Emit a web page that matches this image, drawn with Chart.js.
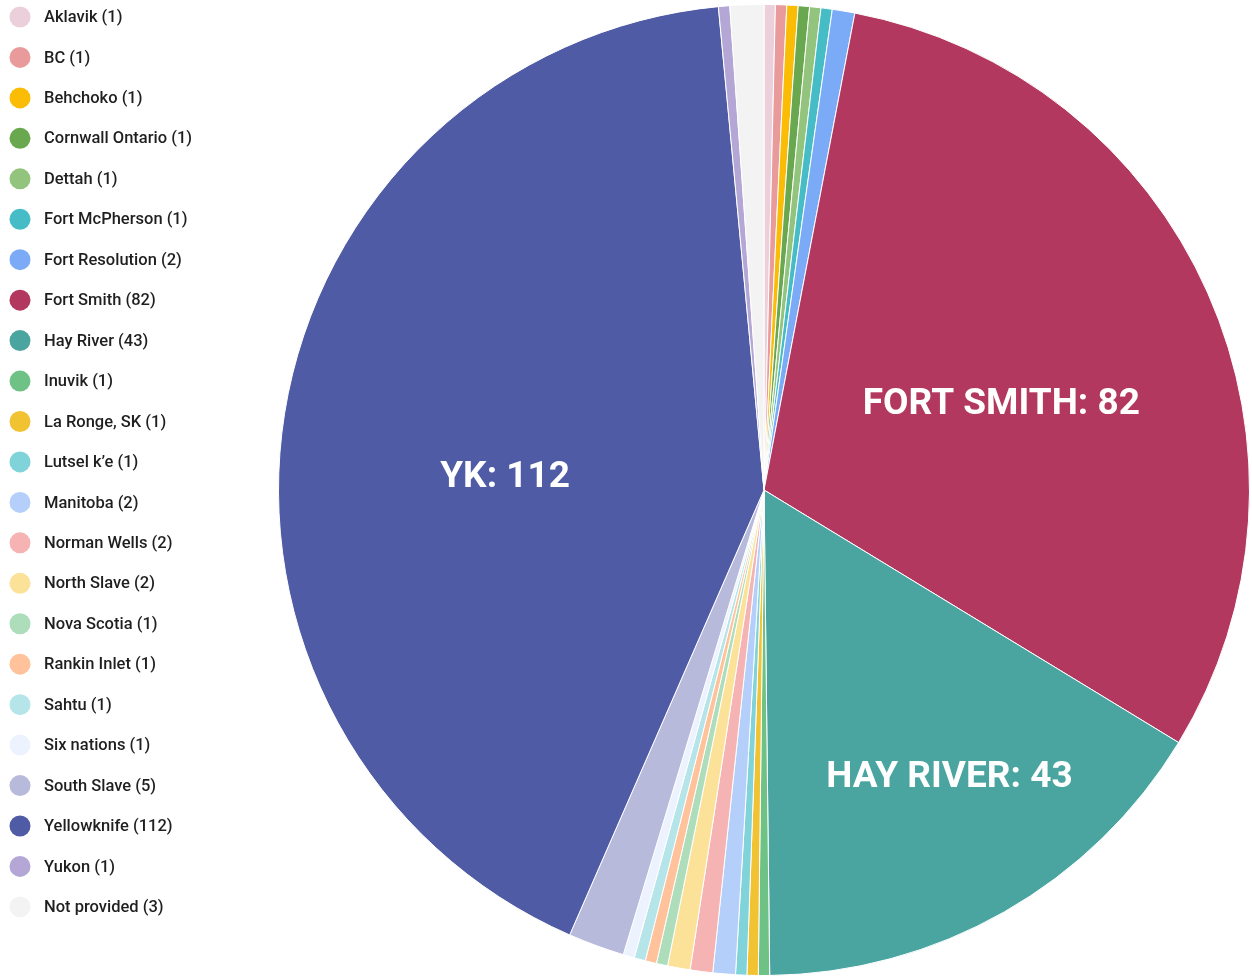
<!DOCTYPE html>
<html>
<head>
<meta charset="utf-8">
<script src="https://cdn.jsdelivr.net/npm/chart.js@4.4.1/dist/chart.umd.min.js"></script>
<style>
  html, body { margin: 0; padding: 0; background: #ffffff; }
  #wrap { width: 1252px; height: 977px; position: relative; }
</style>
</head>
<body>
<div id="wrap"><canvas id="c" width="1252" height="977"></canvas></div>
<script>
const categories = ["Aklavik", "BC", "Behchoko", "Cornwall Ontario", "Dettah", "Fort McPherson",
  "Fort Resolution", "Fort Smith", "Hay River", "Inuvik", "La Ronge, SK", "Lutsel k\u2019e",
  "Manitoba", "Norman Wells", "North Slave", "Nova Scotia", "Rankin Inlet", "Sahtu",
  "Six nations", "South Slave", "Yellowknife", "Yukon", "Not provided"];
const counts = [1, 1, 1, 1, 1, 1, 2, 82, 43, 1, 1, 1, 2, 2, 2, 1, 1, 1, 1, 5, 112, 1, 3];
const colors = ["#EBD0DB", "#E99A9A", "#FBBC05", "#6AA84F", "#93C47D", "#46BDC6",
  "#7BAAF7", "#B3385F", "#4AA5A1", "#6FC285", "#F1C232", "#7FD3D9",
  "#B5CFFB", "#F6B3B3", "#FCE198", "#AEDDBB", "#FFC29A", "#B5E5E8",
  "#EDF3FE", "#B8BADB", "#4F5BA5", "#B4A7D6", "#F3F3F3"];
const sliceLabels = ["", "", "", "", "", "", "", "FORT SMITH", "HAY RIVER", "", "", "", "", "", "", "", "", "", "", "", "YK", "", ""];

// label placement tweaks (radius fraction, angle shift in degrees) for the in-slice labels
const labelPlacement = { 7: [0.52, 4.0], 8: [0.704, -3.2], 20: [0.534, -6.2] };

const legendPlugin = {
  id: 'sideLegend',
  afterDraw(chart) {
    const ctx = chart.ctx;
    const ds = chart.data.datasets[0];
    ctx.save();
    ctx.font = '500 16.5px Roboto, "DejaVu Sans", sans-serif';
    ctx.textBaseline = 'middle';
    ctx.textAlign = 'left';
    chart.data.labels.forEach((lab, i) => {
      const y = 17 + i * 40.45;
      ctx.beginPath();
      ctx.arc(20, y, 10.5, 0, Math.PI * 2);
      ctx.fillStyle = ds.backgroundColor[i];
      ctx.fill();
      ctx.fillStyle = '#1f1f1f';
      ctx.fillText(lab + ' (' + ds.data[i] + ')', 44, y + 1);
    });
    ctx.restore();
  }
};

const sliceLabelPlugin = {
  id: 'sliceLabels',
  afterDatasetsDraw(chart) {
    const ctx = chart.ctx;
    const meta = chart.getDatasetMeta(0);
    const ds = chart.data.datasets[0];
    ctx.save();
    ctx.font = 'bold 37px Roboto, "DejaVu Sans", sans-serif';
    ctx.fillStyle = '#ffffff';
    ctx.textAlign = 'center';
    ctx.textBaseline = 'middle';
    meta.data.forEach((arc, i) => {
      if (!sliceLabels[i]) return;
      const p = arc.getProps(['x', 'y', 'startAngle', 'endAngle', 'outerRadius'], true);
      const place = labelPlacement[i] || [0.5, 0];
      const a = (p.startAngle + p.endAngle) / 2 + place[1] * Math.PI / 180;
      const r = p.outerRadius * place[0];
      ctx.fillText(sliceLabels[i] + ': ' + ds.data[i], p.x + Math.cos(a) * r, p.y + Math.sin(a) * r + 1);
    });
    ctx.restore();
  }
};

new Chart(document.getElementById('c'), {
  type: 'pie',
  data: {
    labels: categories,
    datasets: [{
      data: counts,
      backgroundColor: colors,
      borderColor: '#ffffff',
      borderWidth: 1
    }]
  },
  options: {
    responsive: false,
    animation: false,
    layout: { padding: { left: 278, right: 2, top: 4, bottom: 1 } },
    plugins: {
      legend: { display: false },
      tooltip: { enabled: false }
    }
  },
  plugins: [sliceLabelPlugin, legendPlugin]
});
</script>
</body>
</html>
